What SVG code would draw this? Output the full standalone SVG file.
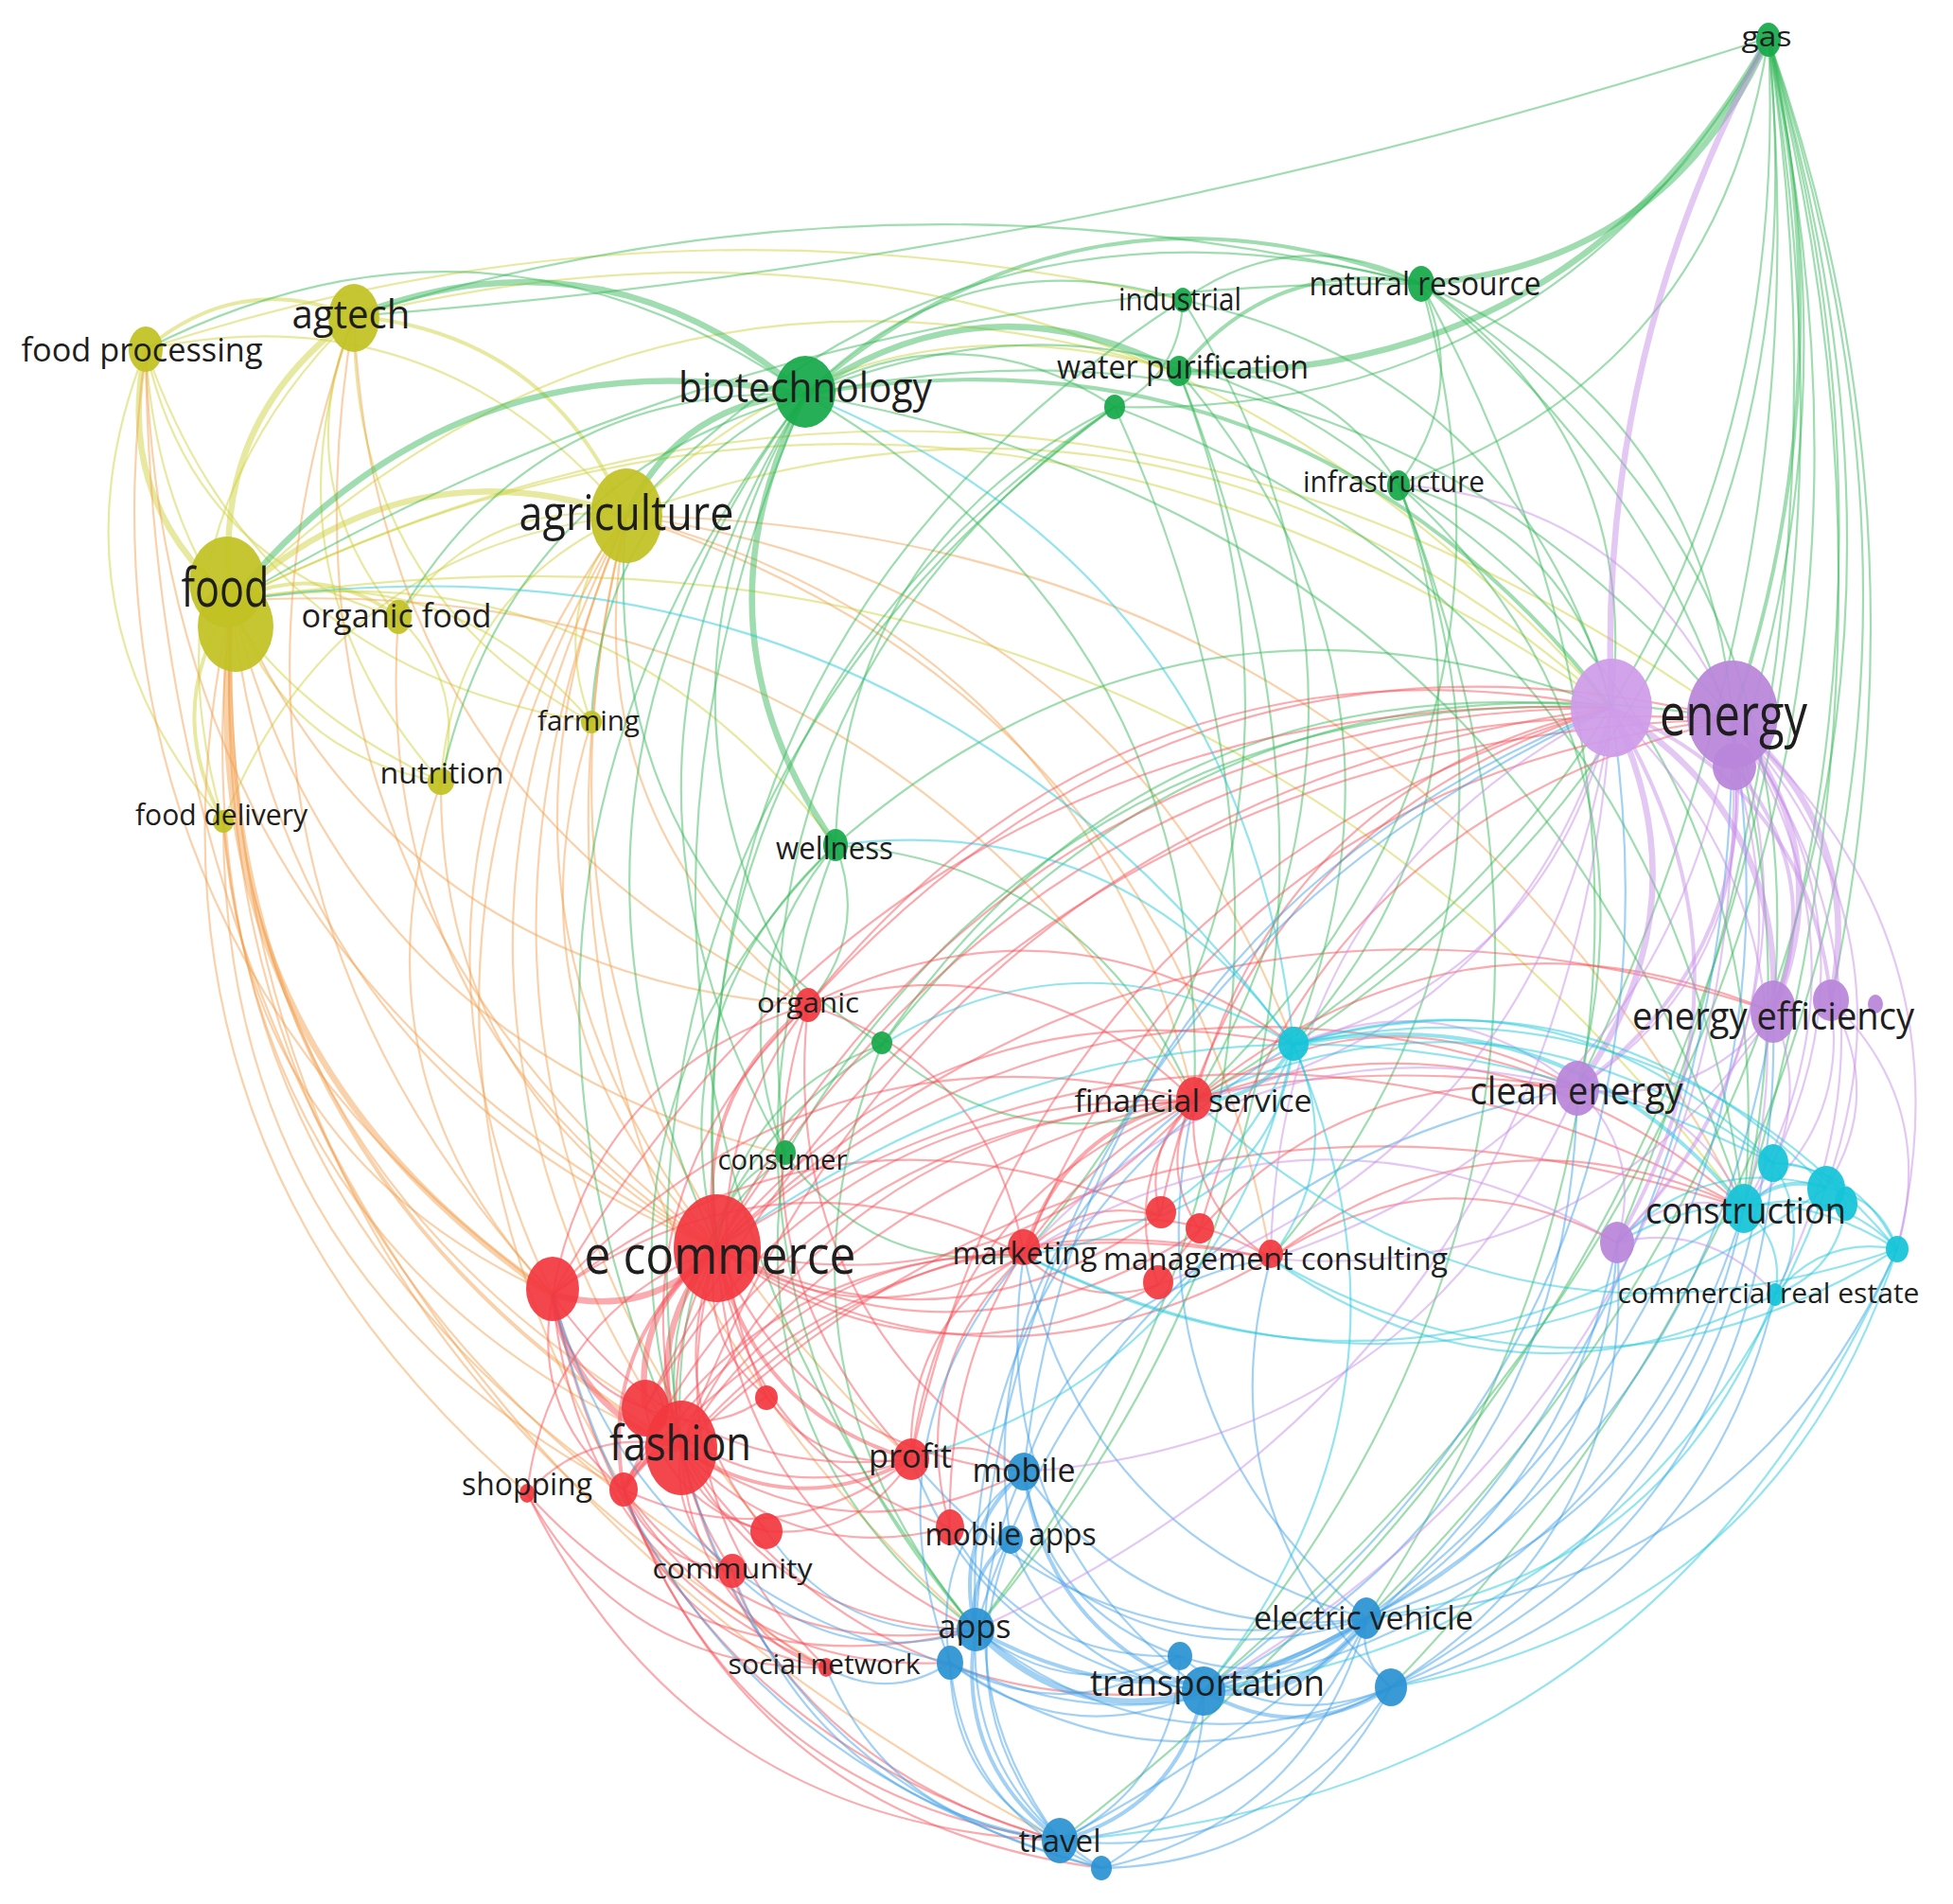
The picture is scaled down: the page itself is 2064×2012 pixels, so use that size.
<svg xmlns="http://www.w3.org/2000/svg" xmlns:xlink="http://www.w3.org/1999/xlink" width="2064" height="2012" viewBox="0 0 2064 2012">
<style>
#edges{fill:none;stroke-width:2.2;stroke-opacity:.48}
.t{stroke-width:6.5}
.m{stroke-width:4}
.y{stroke:#cfd23a}.o{stroke:#f2a050}.g{stroke:#36b85a}.r{stroke:#f45058}.b{stroke:#3c9fe6}.p{stroke:#c68be8}.c{stroke:#1fc6dc}
.ny{fill:#c2c224}.ng{fill:#17a94a}.nr{fill:#f2383f}.nb{fill:#2b92d3}.np{fill:#b985da}.nc{fill:#14c4d8}
.nodes ellipse{fill-opacity:.93}
text{font-family:"Open Sans","DejaVu Sans",sans-serif;fill:#1e1e1e;text-anchor:middle}
</style>
<defs>
<path id="u" d="M0 0Q.5 -.3 1 0" fill="none" vector-effect="non-scaling-stroke"/>
<path id="v" d="M0 0Q.5 -.14 1 0" fill="none" vector-effect="non-scaling-stroke"/>
<path id="w" d="M0 0Q.5 -.06 1 0" fill="none" vector-effect="non-scaling-stroke"/>
</defs>
<rect width="2064" height="2012" fill="#fff"/>
<g id="edges">
<g class="y">
<use href="#u" class="t" transform="matrix(-91 -266 266 -91 245 635)"/>
<use href="#u" class="t" transform="matrix(129 -301 301 129 245 635)"/>
<use href="#u" class="t" transform="matrix(417 -90 90 417 245 635)"/>
<use href="#u" class="m" transform="matrix(220 -35 35 220 154 369)"/>
<use href="#u" transform="matrix(508 176 -176 508 154 369)"/>
<use href="#u" class="m" transform="matrix(288 211 -211 288 374 334)"/>
<use href="#u" class="m" transform="matrix(176 17 -17 176 245 635)"/>
<use href="#u" transform="matrix(380 128 -128 380 245 635)"/>
<use href="#u" transform="matrix(-221 -191 191 -221 466 826)"/>
<use href="#u" class="m" transform="matrix(9 -233 233 9 236 868)"/>
<use href="#u" transform="matrix(-47 -318 318 -47 421 652)"/>
<use href="#u" transform="matrix(-92 -492 492 -92 466 826)"/>
<use href="#u" transform="matrix(-251 -429 429 -251 625 763)"/>
<use href="#u" transform="matrix(-82 -499 499 -82 236 868)"/>
<use href="#u" transform="matrix(-267 -283 283 -267 421 652)"/>
<use href="#u" transform="matrix(-312 -457 457 -312 466 826)"/>
<use href="#u" transform="matrix(241 -107 107 241 421 652)"/>
<use href="#u" transform="matrix(37 -218 218 37 625 763)"/>
<use href="#u" transform="matrix(196 -281 281 196 466 826)"/>
<use href="#u" transform="matrix(426 -323 323 426 236 868)"/>
<use href="#u" transform="matrix(638 258 -258 638 245 635)"/>
<use href="#u" transform="matrix(1458 113 -113 1458 245 635)"/>
<use href="#u" transform="matrix(1041 203 -203 1041 662 545)"/>
<use href="#u" transform="matrix(1586 125 -125 1586 245 635)"/>
<use href="#u" transform="matrix(584 -152 152 584 662 545)"/>
<use href="#u" transform="matrix(1598 642 -642 1598 245 635)"/>
<use href="#u" transform="matrix(1329 414 -414 1329 374 334)"/>
<use href="#v" transform="matrix(1096 -52 52 1096 154 369)"/>
<use href="#u" transform="matrix(1001 -242 242 1001 245 635)"/>
<use href="#u" transform="matrix(45 174 -174 45 421 652)"/>
<use href="#u" transform="matrix(-471 -394 394 -471 625 763)"/>
<use href="#u" transform="matrix(138 -534 534 138 236 868)"/>
</g>
<g class="o">
<use href="#u" transform="matrix(-513 -684 684 -513 758 1319)"/>
<use href="#u" class="t" transform="matrix(-339 -733 733 -339 584 1368)"/>
<use href="#u" class="m" transform="matrix(-475 -895 895 -475 720 1530)"/>
<use href="#u" transform="matrix(-414 -939 939 -414 659 1574)"/>
<use href="#u" transform="matrix(-609 -427 427 -609 854 1062)"/>
<use href="#u" transform="matrix(-585 -585 585 -585 830 1220)"/>
<use href="#u" transform="matrix(-96 -774 774 -96 758 1319)"/>
<use href="#u" transform="matrix(78 -823 823 78 584 1368)"/>
<use href="#u" transform="matrix(-58 -985 985 -58 720 1530)"/>
<use href="#u" transform="matrix(-384 -985 985 -384 758 1319)"/>
<use href="#u" transform="matrix(3 -1029 1029 3 659 1574)"/>
<use href="#u" transform="matrix(-192 -517 517 -192 854 1062)"/>
<use href="#u" transform="matrix(-292 -493 493 -292 758 1319)"/>
<use href="#u" transform="matrix(-348 -500 500 -348 584 1368)"/>
<use href="#u" transform="matrix(-484 -662 662 -484 720 1530)"/>
<use href="#u" transform="matrix(-133 -556 556 -133 758 1319)"/>
<use href="#u" transform="matrix(-337 -667 667 -337 758 1319)"/>
<use href="#u" transform="matrix(-210 -1034 1034 -210 584 1368)"/>
<use href="#u" transform="matrix(-430 -999 999 -430 584 1368)"/>
<use href="#u" transform="matrix(-369 -1177 1177 -369 1031 1722)"/>
<use href="#u" transform="matrix(-437 -853 853 -437 682 1488)"/>
<use href="#u" transform="matrix(-529 -1025 1025 -529 774 1660)"/>
<use href="#u" transform="matrix(-148 -1073 1073 -148 810 1618)"/>
<use href="#u" transform="matrix(-301 -997 997 -301 963 1542)"/>
<use href="#u" transform="matrix(-966 -1576 1576 -966 1120 1945)"/>
<use href="#u" transform="matrix(-423 -706 706 -423 659 1574)"/>
<use href="#u" transform="matrix(-628 -1127 1127 -628 873 1762)"/>
<use href="#u" transform="matrix(-480 -728 728 -480 854 1062)"/>
<use href="#u" transform="matrix(-118 -542 542 -118 584 1368)"/>
<use href="#u" transform="matrix(-604 -950 950 -604 758 1319)"/>
<use href="#u" transform="matrix(681 785 -785 681 662 545)"/>
<use href="#u" transform="matrix(705 559 -559 705 662 545)"/>
<use href="#u" transform="matrix(1017 528 -528 1017 245 635)"/>
<use href="#u" transform="matrix(600 618 -618 600 662 545)"/>
<use href="#u" transform="matrix(1181 732 -732 1181 662 545)"/>
<use href="#u" transform="matrix(-312 -943 943 -312 557 1578)"/>
</g>
<g class="g">
<use href="#u" class="t" transform="matrix(477 83 -83 477 374 334)"/>
<use href="#u" class="t" transform="matrix(606 -218 218 606 245 635)"/>
<use href="#u" class="t" transform="matrix(189 -128 128 189 662 545)"/>
<use href="#u" transform="matrix(697 48 -48 697 154 369)"/>
<use href="#v" transform="matrix(1128 -34 34 1128 374 334)"/>
<use href="#u" class="t" transform="matrix(-367 260 -260 -367 1869 40)"/>
<use href="#u" class="t" transform="matrix(-623 353 -353 -623 1869 40)"/>
<use href="#w" transform="matrix(-1495 294 -294 -1495 1869 40)"/>
<use href="#u" transform="matrix(-691 390 -390 -691 1869 40)"/>
<use href="#v" class="m" transform="matrix(-38 720 -720 -38 1869 40)"/>
<use href="#v" transform="matrix(-36 770 -770 -36 1869 40)"/>
<use href="#v" transform="matrix(5 1029 -1029 5 1869 40)"/>
<use href="#v" transform="matrix(-26 1237 -1237 -26 1869 40)"/>
<use href="#v" transform="matrix(66 1017 -1017 66 1869 40)"/>
<use href="#v" transform="matrix(-202 1110 -1110 -202 1869 40)"/>
<use href="#u" transform="matrix(-391 472 -472 -391 1869 40)"/>
<use href="#u" transform="matrix(-502 1064 -1064 -502 1869 40)"/>
<use href="#u" transform="matrix(-607 1123 -1123 -607 1869 40)"/>
<use href="#u" transform="matrix(-425 1670 -1670 -425 1869 40)"/>
<use href="#u" transform="matrix(-399 1743 -1743 -399 1869 40)"/>
<use href="#u" transform="matrix(-749 1905 -1905 -749 1869 40)"/>
<use href="#u" transform="matrix(-597 1747 -1747 -597 1869 40)"/>
<use href="#v" transform="matrix(-160 1273 -1273 -160 1869 40)"/>
<use href="#u" class="m" transform="matrix(651 -117 117 651 851 417)"/>
<use href="#u" transform="matrix(399 -100 100 399 851 417)"/>
<use href="#u" class="t" transform="matrix(395 -24 24 395 851 417)"/>
<use href="#u" transform="matrix(327 13 -13 327 851 417)"/>
<use href="#u" transform="matrix(627 95 -95 627 851 417)"/>
<use href="#u" class="m" transform="matrix(852 331 -331 852 851 417)"/>
<use href="#u" transform="matrix(980 343 -343 980 851 417)"/>
<use href="#u" class="t" transform="matrix(-32 -476 476 -32 883 893)"/>
<use href="#u" transform="matrix(-3 -645 645 -3 854 1062)"/>
<use href="#u" transform="matrix(21 -803 803 21 830 1220)"/>
<use href="#u" transform="matrix(93 -902 902 93 758 1319)"/>
<use href="#u" transform="matrix(131 -1113 1113 131 720 1530)"/>
<use href="#u" transform="matrix(430 -235 235 430 421 652)"/>
<use href="#u" transform="matrix(226 -346 346 226 625 763)"/>
<use href="#u" transform="matrix(385 -409 409 385 466 826)"/>
<use href="#u" transform="matrix(-180 -1305 1305 -180 1031 1722)"/>
<use href="#u" transform="matrix(992 860 -860 992 851 417)"/>
<use href="#u" transform="matrix(252 -17 17 252 1250 317)"/>
<use href="#u" transform="matrix(-72 113 -113 -72 1250 317)"/>
<use href="#u" class="m" transform="matrix(256 -93 93 256 1246 393)"/>
<use href="#u" transform="matrix(232 119 -119 232 1246 393)"/>
<use href="#u" transform="matrix(-24 212 -212 -24 1502 300)"/>
<use href="#u" transform="matrix(201 448 -448 201 1502 300)"/>
<use href="#u" transform="matrix(329 460 -460 329 1502 300)"/>
<use href="#u" transform="matrix(341 977 -977 341 1502 300)"/>
<use href="#u" transform="matrix(372 769 -769 372 1502 300)"/>
<use href="#u" transform="matrix(-240 863 -863 -240 1502 300)"/>
<use href="#u" transform="matrix(225 236 -236 225 1478 512)"/>
<use href="#u" transform="matrix(365 765 -765 365 1478 512)"/>
<use href="#u" transform="matrix(189 638 -638 189 1478 512)"/>
<use href="#u" transform="matrix(-111 592 -592 -111 1478 512)"/>
<use href="#u" transform="matrix(-135 818 -818 -135 1478 512)"/>
<use href="#u" transform="matrix(-206 1275 -1275 -206 1478 512)"/>
<use href="#u" transform="matrix(295 -463 463 295 883 893)"/>
<use href="#u" transform="matrix(420 -889 889 420 758 1319)"/>
<use href="#u" transform="matrix(348 -790 790 348 830 1220)"/>
<use href="#u" transform="matrix(-215 1329 -1329 -215 1246 393)"/>
<use href="#u" transform="matrix(-164 933 -933 -164 1246 393)"/>
<use href="#u" transform="matrix(453 431 -431 453 1250 317)"/>
<use href="#u" transform="matrix(125 -426 426 125 758 1319)"/>
<use href="#u" transform="matrix(163 -637 637 163 720 1530)"/>
<use href="#u" transform="matrix(53 -327 327 53 830 1220)"/>
<use href="#u" transform="matrix(379 270 -270 379 883 893)"/>
<use href="#u" transform="matrix(-148 -829 829 -148 1031 1722)"/>
<use href="#u" transform="matrix(-330 -59 59 -330 1262 1163)"/>
<use href="#u" transform="matrix(174 -215 215 174 758 1319)"/>
<use href="#u" transform="matrix(771 -356 356 771 932 1104)"/>
<use href="#u" transform="matrix(-270 -559 559 -270 932 1104)"/>
<use href="#u" transform="matrix(72 -99 99 72 758 1319)"/>
<use href="#u" transform="matrix(-201 -502 502 -201 1031 1722)"/>
<use href="#u" transform="matrix(110 -310 310 110 720 1530)"/>
<use href="#u" transform="matrix(-252 -106 106 -252 1082 1326)"/>
<use href="#u" transform="matrix(411 746 -746 411 851 417)"/>
<use href="#u" transform="matrix(-58 1410 -1410 -58 1502 300)"/>
<use href="#u" transform="matrix(492 -1002 1002 492 758 1319)"/>
<use href="#u" transform="matrix(840 -245 245 840 662 545)"/>
<use href="#u" transform="matrix(820 -145 145 820 883 893)"/>
<use href="#u" transform="matrix(899 -344 344 899 932 1104)"/>
<use href="#u" transform="matrix(873 -472 472 873 830 1220)"/>
<use href="#u" transform="matrix(-147 1292 -1292 -147 1178 430)"/>
<use href="#u" transform="matrix(458 -1100 1100 458 720 1530)"/>
<use href="#u" transform="matrix(-29 169 -169 -29 883 893)"/>
<use href="#u" transform="matrix(212 -426 426 212 720 1530)"/>
<use href="#u" transform="matrix(-99 -618 618 -99 1031 1722)"/>
<use href="#u" transform="matrix(12 846 -846 12 1250 317)"/>
<use href="#u" transform="matrix(665 847 -847 665 1178 430)"/>
<use href="#u" transform="matrix(121 711 -711 121 1246 393)"/>
<use href="#v" transform="matrix(1257 -335 335 1257 245 635)"/>
</g>
<g class="r">
<use href="#u" class="t" transform="matrix(-174 49 -49 -174 758 1319)"/>
<use href="#u" class="t" transform="matrix(38 -211 211 38 720 1530)"/>
<use href="#u" class="t" transform="matrix(76 -169 169 76 682 1488)"/>
<use href="#u" class="m" transform="matrix(99 -255 255 99 659 1574)"/>
<use href="#u" transform="matrix(-52 -157 157 -52 810 1476)"/>
<use href="#u" transform="matrix(-52 -299 299 -52 810 1618)"/>
<use href="#u" transform="matrix(-16 -341 341 -16 774 1660)"/>
<use href="#u" class="m" transform="matrix(-205 -223 223 -205 963 1542)"/>
<use href="#u" transform="matrix(-246 -295 295 -246 1004 1614)"/>
<use href="#u" class="m" transform="matrix(96 -257 257 96 758 1319)"/>
<use href="#u" transform="matrix(-324 -7 7 -324 1082 1326)"/>
<use href="#u" transform="matrix(-504 156 -156 -504 1262 1163)"/>
<use href="#u" transform="matrix(-468 34 -34 -468 1226 1285)"/>
<use href="#u" transform="matrix(-466 -39 39 -466 1224 1358)"/>
<use href="#u" transform="matrix(-585 -11 11 -585 1343 1330)"/>
<use href="#u" transform="matrix(-324 -236 236 -324 1082 1555)"/>
<use href="#u" transform="matrix(-273 -403 403 -273 1031 1722)"/>
<use href="#u" transform="matrix(-115 -443 443 -115 873 1762)"/>
<use href="#u" transform="matrix(945 -571 571 945 758 1319)"/>
<use href="#u" transform="matrix(1073 -559 559 1073 758 1319)"/>
<use href="#u" transform="matrix(983 -782 782 983 720 1530)"/>
<use href="#u" transform="matrix(909 -169 169 909 758 1319)"/>
<use href="#u" transform="matrix(1085 -42 42 1085 758 1319)"/>
<use href="#u" transform="matrix(1116 -250 250 1116 758 1319)"/>
<use href="#u" transform="matrix(849 -314 314 849 854 1062)"/>
<use href="#u" transform="matrix(408 101 -101 408 854 1062)"/>
<use href="#u" transform="matrix(134 -468 468 134 720 1530)"/>
<use href="#u" transform="matrix(270 -306 306 270 584 1368)"/>
<use href="#u" class="t" transform="matrix(-136 -162 162 -136 720 1530)"/>
<use href="#u" transform="matrix(-98 -120 120 -98 682 1488)"/>
<use href="#u" transform="matrix(-75 -206 206 -75 659 1574)"/>
<use href="#u" class="t" transform="matrix(61 -44 44 61 659 1574)"/>
<use href="#u" class="m" transform="matrix(-243 -12 12 -243 963 1542)"/>
<use href="#u" transform="matrix(-90 -88 88 -90 810 1618)"/>
<use href="#u" transform="matrix(-54 -130 130 -54 774 1660)"/>
<use href="#u" transform="matrix(-284 -84 84 -284 1004 1614)"/>
<use href="#u" transform="matrix(362 -204 204 362 720 1530)"/>
<use href="#u" transform="matrix(542 -367 367 542 720 1530)"/>
<use href="#u" transform="matrix(623 -200 200 623 720 1530)"/>
<use href="#u" transform="matrix(-362 -25 25 -362 1082 1555)"/>
<use href="#u" transform="matrix(-311 -192 192 -311 1031 1722)"/>
<use href="#u" transform="matrix(-400 -415 415 -400 1120 1945)"/>
<use href="#u" transform="matrix(-552 -257 257 -552 1272 1787)"/>
<use href="#u" transform="matrix(-461 -371 371 -461 1120 1945)"/>
<use href="#u" transform="matrix(-505 -400 400 -505 1164 1974)"/>
<use href="#u" transform="matrix(-536 -577 577 -536 1120 1945)"/>
<use href="#u" transform="matrix(-345 -183 183 -345 1004 1757)"/>
<use href="#u" transform="matrix(-214 -188 188 -214 873 1762)"/>
<use href="#u" transform="matrix(-153 -232 232 -153 873 1762)"/>
<use href="#u" transform="matrix(-289 -394 394 -289 873 1762)"/>
<use href="#u" transform="matrix(-372 -148 148 -372 1031 1722)"/>
<use href="#u" transform="matrix(-115 -86 86 -115 774 1660)"/>
<use href="#u" transform="matrix(-128 -130 130 -128 810 1618)"/>
<use href="#u" transform="matrix(-281 -54 54 -281 963 1542)"/>
<use href="#u" transform="matrix(-128 12 -12 -128 810 1476)"/>
<use href="#u" transform="matrix(119 -216 216 119 963 1542)"/>
<use href="#u" transform="matrix(78 -288 288 78 1004 1614)"/>
<use href="#u" class="m" transform="matrix(180 -163 163 180 1082 1326)"/>
<use href="#u" transform="matrix(36 -122 122 36 1226 1285)"/>
<use href="#u" transform="matrix(-6 -137 137 -6 1268 1300)"/>
<use href="#u" transform="matrix(38 -195 195 38 1224 1358)"/>
<use href="#u" transform="matrix(-81 -167 167 -81 1343 1330)"/>
<use href="#u" transform="matrix(144 -41 41 144 1082 1326)"/>
<use href="#u" transform="matrix(261 4 -4 261 1082 1326)"/>
<use href="#u" transform="matrix(-142 -32 32 -142 1224 1358)"/>
<use href="#u" transform="matrix(405 -13 13 405 1262 1163)"/>
<use href="#u" transform="matrix(441 -415 415 441 1262 1163)"/>
<use href="#u" transform="matrix(612 -94 94 612 1262 1163)"/>
<use href="#u" transform="matrix(581 114 -114 581 1262 1163)"/>
<use href="#u" transform="matrix(366 -17 17 366 1343 1330)"/>
<use href="#u" transform="matrix(500 -53 53 500 1343 1330)"/>
<use href="#u" transform="matrix(477 -537 537 477 1226 1285)"/>
<use href="#u" transform="matrix(563 -540 540 563 1268 1300)"/>
<use href="#u" transform="matrix(443 -208 208 443 1224 1358)"/>
<use href="#u" transform="matrix(299 -379 379 299 963 1542)"/>
<use href="#u" transform="matrix(258 -451 451 258 1004 1614)"/>
<use href="#u" transform="matrix(119 13 -13 119 963 1542)"/>
<use href="#u" transform="matrix(-99 -102 102 -99 873 1762)"/>
<use href="#u" transform="matrix(-153 76 -76 -153 963 1542)"/>
<use href="#u" transform="matrix(-304 32 -32 -304 963 1542)"/>
<use href="#u" transform="matrix(-379 -174 174 -379 963 1542)"/>
<use href="#u" transform="matrix(498 -42 42 498 584 1368)"/>
<use href="#u" transform="matrix(678 -205 205 678 584 1368)"/>
<use href="#u" transform="matrix(423 -248 248 423 659 1574)"/>
<use href="#u" transform="matrix(684 -244 244 684 659 1574)"/>
<use href="#u" transform="matrix(580 -325 325 580 682 1488)"/>
<use href="#u" transform="matrix(228 264 -264 228 854 1062)"/>
<use href="#u" transform="matrix(513 42 -42 513 854 1062)"/>
<use href="#u" transform="matrix(-109 -480 480 -109 963 1542)"/>
<use href="#u" transform="matrix(-228 -493 493 -228 1082 1555)"/>
<use href="#u" transform="matrix(-153 -66 66 -153 963 1542)"/>
<use href="#u" transform="matrix(749 -566 566 749 1082 1326)"/>
<use href="#u" transform="matrix(740 -794 794 740 963 1542)"/>
<use href="#u" transform="matrix(1119 -620 620 1119 584 1368)"/>
<use href="#u" transform="matrix(977 -302 302 977 854 1062)"/>
<use href="#u" transform="matrix(609 -215 215 609 758 1319)"/>
<use href="#u" transform="matrix(603 -411 411 603 659 1574)"/>
<use href="#u" transform="matrix(642 -83 83 642 584 1368)"/>
<use href="#u" transform="matrix(1149 -728 728 1149 682 1488)"/>
<use href="#u" transform="matrix(1008 -424 424 1008 659 1574)"/>
<use href="#u" transform="matrix(1123 -253 253 1123 720 1530)"/>
<use href="#u" transform="matrix(-510 19 -19 -510 1268 1300)"/>
<use href="#u" transform="matrix(44 -414 414 44 810 1476)"/>
<use href="#u" transform="matrix(-563 -367 367 -563 1120 1945)"/>
<use href="#u" transform="matrix(201 -259 259 201 557 1578)"/>
<use href="#u" transform="matrix(163 -48 48 163 557 1578)"/>
<use href="#u" transform="matrix(-474 -144 144 -474 1031 1722)"/>
<use href="#u" transform="matrix(-316 -184 184 -316 873 1762)"/>
</g>
<g class="b">
<use href="#u" class="m" transform="matrix(51 -167 167 51 1031 1722)"/>
<use href="#u" class="m" transform="matrix(37 -95 95 37 1031 1722)"/>
<use href="#u" transform="matrix(78 -202 202 78 1004 1757)"/>
<use href="#u" class="t" transform="matrix(-241 -65 65 -241 1272 1787)"/>
<use href="#u" class="m" transform="matrix(-190 -232 232 -190 1272 1787)"/>
<use href="#u" transform="matrix(-204 -160 160 -204 1272 1787)"/>
<use href="#u" transform="matrix(-268 -30 30 -268 1272 1787)"/>
<use href="#u" transform="matrix(-216 -28 28 -216 1247 1750)"/>
<use href="#u" transform="matrix(-165 -195 195 -165 1247 1750)"/>
<use href="#u" class="t" transform="matrix(-172 77 -77 -172 1444 1710)"/>
<use href="#u" transform="matrix(-197 40 -40 -197 1444 1710)"/>
<use href="#u" class="m" transform="matrix(-413 12 -12 -413 1444 1710)"/>
<use href="#u" transform="matrix(-362 -155 155 -362 1444 1710)"/>
<use href="#u" transform="matrix(-376 -83 83 -376 1444 1710)"/>
<use href="#u" class="m" transform="matrix(-198 4 -4 -198 1470 1783)"/>
<use href="#u" transform="matrix(-26 -73 73 -26 1470 1783)"/>
<use href="#u" transform="matrix(-439 -61 61 -439 1470 1783)"/>
<use href="#u" transform="matrix(-223 -33 33 -223 1470 1783)"/>
<use href="#u" class="m" transform="matrix(-89 -223 223 -89 1120 1945)"/>
<use href="#u" transform="matrix(-116 -188 188 -116 1120 1945)"/>
<use href="#u" class="m" transform="matrix(-152 158 -158 -152 1272 1787)"/>
<use href="#u" transform="matrix(-350 162 -162 -350 1470 1783)"/>
<use href="#u" transform="matrix(-324 235 -235 -324 1444 1710)"/>
<use href="#u" transform="matrix(-133 -252 252 -133 1164 1974)"/>
<use href="#u" transform="matrix(-127 195 -195 -127 1247 1750)"/>
<use href="#u" transform="matrix(-38 -390 390 -38 1120 1945)"/>
<use href="#u" transform="matrix(-52 -318 318 -52 1120 1945)"/>
<use href="#u" transform="matrix(-160 -217 217 -160 1164 1974)"/>
<use href="#u" transform="matrix(-306 191 -191 -306 1470 1783)"/>
<use href="#u" transform="matrix(-395 637 -637 -395 1667 1150)"/>
<use href="#u" transform="matrix(-437 474 -474 -437 1709 1313)"/>
<use href="#u" transform="matrix(-265 397 -397 -265 1709 1313)"/>
<use href="#u" transform="matrix(-399 433 -433 -399 1843 1277)"/>
<use href="#u" transform="matrix(-404 554 -554 -404 1874 1229)"/>
<use href="#u" transform="matrix(-406 415 -415 -406 1876 1368)"/>
<use href="#u" transform="matrix(-561 390 -390 -561 2005 1320)"/>
<use href="#u" transform="matrix(-404 714 -714 -404 1874 1069)"/>
<use href="#u" transform="matrix(-711 1185 -1185 -711 1831 760)"/>
<use href="#u" transform="matrix(-431 1039 -1039 -431 1703 748)"/>
<use href="#u" transform="matrix(-387 950 -950 -387 1831 760)"/>
<use href="#u" transform="matrix(621 -807 807 621 1082 1555)"/>
<use href="#u" transform="matrix(636 -572 572 636 1031 1722)"/>
<use href="#u" transform="matrix(336 -618 618 336 1031 1722)"/>
<use href="#u" transform="matrix(78 -431 431 78 1004 1757)"/>
<use href="#u" transform="matrix(194 -464 464 194 1068 1627)"/>
<use href="#u" transform="matrix(261 -225 225 261 1082 1555)"/>
<use href="#u" transform="matrix(-247 -183 183 -247 1120 1945)"/>
<use href="#u" transform="matrix(-257 -62 62 -257 1031 1722)"/>
<use href="#u" transform="matrix(-131 5 -5 -131 1004 1757)"/>
<use href="#u" transform="matrix(-420 -389 389 -420 1004 1757)"/>
<use href="#u" transform="matrix(-221 -104 104 -221 1031 1722)"/>
<use href="#u" transform="matrix(-309 -245 245 -309 1272 1787)"/>
<use href="#u" transform="matrix(-243 -136 136 -243 1247 1750)"/>
<use href="#u" transform="matrix(-481 -168 168 -481 1444 1710)"/>
<use href="#u" transform="matrix(-182 -547 547 -182 1444 1710)"/>
<use href="#u" transform="matrix(-127 -453 453 -127 1470 1783)"/>
<use href="#u" transform="matrix(-440 47 -47 -440 1444 1710)"/>
<use href="#u" transform="matrix(-466 -26 26 -466 1470 1783)"/>
<use href="#u" transform="matrix(-108 187 -187 -108 1272 1787)"/>
<use href="#u" transform="matrix(-280 264 -264 -280 1444 1710)"/>
<use href="#u" transform="matrix(-243 7 -7 -243 1247 1750)"/>
<use href="#u" transform="matrix(-346 -285 285 -346 1120 1945)"/>
<use href="#u" transform="matrix(-444 -444 444 -444 1164 1974)"/>
<use href="#u" transform="matrix(-580 -606 606 -580 1164 1974)"/>
<use href="#u" transform="matrix(-190 -461 461 -190 1272 1787)"/>
<use href="#u" transform="matrix(-362 -384 384 -362 1444 1710)"/>
<use href="#u" transform="matrix(-239 470 -470 -239 1709 1313)"/>
<use href="#u" transform="matrix(672 -974 974 672 1031 1722)"/>
<use href="#u" transform="matrix(-571 510 -510 -571 1843 1277)"/>
<use href="#u" transform="matrix(-602 718 -718 -602 1874 1069)"/>
</g>
<g class="p">
<use href="#u" class="t" transform="matrix(-36 402 -402 -36 1703 748)"/>
<use href="#u" class="t" transform="matrix(43 309 -309 43 1831 760)"/>
<use href="#u" class="t" transform="matrix(104 297 -297 104 1831 760)"/>
<use href="#u" class="t" transform="matrix(171 321 -321 171 1703 748)"/>
<use href="#u" class="m" transform="matrix(-164 390 -390 -164 1831 760)"/>
<use href="#u" class="m" transform="matrix(41 259 -259 41 1833 810)"/>
<use href="#u" transform="matrix(-166 340 -340 -166 1833 810)"/>
<use href="#u" class="m" transform="matrix(6 565 -565 6 1703 748)"/>
<use href="#u" transform="matrix(-122 553 -553 -122 1831 760)"/>
<use href="#u" transform="matrix(12 517 -517 12 1831 760)"/>
<use href="#u" transform="matrix(43 469 -469 43 1831 760)"/>
<use href="#u" transform="matrix(99 495 -495 99 1831 760)"/>
<use href="#u" transform="matrix(174 560 -560 174 1831 760)"/>
<use href="#u" transform="matrix(45 608 -608 45 1831 760)"/>
<use href="#u" transform="matrix(140 529 -529 140 1703 748)"/>
<use href="#u" transform="matrix(-336 356 -356 -336 1703 748)"/>
<use href="#u" transform="matrix(-207 81 -81 -207 1874 1069)"/>
<use href="#u" transform="matrix(-31 208 -208 -31 1874 1069)"/>
<use href="#u" transform="matrix(-5 198 -198 -5 1935 1057)"/>
<use href="#u" transform="matrix(70 263 -263 70 1935 1057)"/>
<use href="#u" transform="matrix(176 127 -127 176 1667 1150)"/>
<use href="#u" transform="matrix(42 163 -163 42 1667 1150)"/>
<use href="#u" transform="matrix(300 46 -46 300 1367 1104)"/>
<use href="#u" transform="matrix(134 -36 36 134 1709 1313)"/>
<use href="#u" transform="matrix(167 55 -55 167 1709 1313)"/>
<use href="#u" transform="matrix(360 -582 582 360 1343 1330)"/>
<use href="#u" class="m" transform="matrix(232 309 -309 232 1703 748)"/>
<use href="#u" transform="matrix(-124 503 -503 -124 1833 810)"/>
<use href="#u" transform="matrix(-441 415 -415 -441 1703 748)"/>
<use href="#u" transform="matrix(-479 610 -610 -479 1703 748)"/>
<use href="#u" transform="matrix(-488 570 -570 -488 1831 760)"/>
<use href="#u" transform="matrix(-672 974 -974 -672 1703 748)"/>
<use href="#u" transform="matrix(-559 1027 -1027 -559 1831 760)"/>
<use href="#u" transform="matrix(585 -176 176 585 1082 1326)"/>
<use href="#u" transform="matrix(627 -13 13 627 1082 1326)"/>
<use href="#u" transform="matrix(-531 261 -261 -531 1874 1069)"/>
<use href="#u" transform="matrix(-585 405 -405 -585 1667 1150)"/>
<use href="#u" transform="matrix(353 248 -248 353 1478 512)"/>
<use href="#u" transform="matrix(-92 220 -220 -92 1935 1057)"/>
<use href="#v" class="t" transform="matrix(166 -708 708 166 1703 748)"/>
</g>
<g class="c">
<use href="#u" class="m" transform="matrix(476 173 -173 476 1367 1104)"/>
<use href="#u" transform="matrix(507 125 -125 507 1367 1104)"/>
<use href="#u" transform="matrix(563 151 -151 563 1367 1104)"/>
<use href="#u" class="m" transform="matrix(-105 59 -59 -105 1367 1104)"/>
<use href="#u" transform="matrix(-24 226 -226 -24 1367 1104)"/>
<use href="#u" transform="matrix(-141 181 -181 -141 1367 1104)"/>
<use href="#u" transform="matrix(435 0 0 435 932 1104)"/>
<use href="#u" class="m" transform="matrix(87 -22 22 87 1843 1277)"/>
<use href="#u" transform="matrix(162 43 -43 162 1843 1277)"/>
<use href="#u" transform="matrix(33 91 -91 33 1843 1277)"/>
<use href="#u" transform="matrix(131 91 -91 131 1874 1229)"/>
<use href="#u" transform="matrix(75 65 -65 75 1930 1255)"/>
<use href="#u" transform="matrix(129 -48 48 129 1876 1368)"/>
<use href="#u" transform="matrix(2 139 -139 2 1874 1229)"/>
<use href="#u" transform="matrix(-75 96 -96 -75 1951 1272)"/>
<use href="#u" transform="matrix(77 43 -43 77 1874 1229)"/>
<use href="#u" transform="matrix(221 -58 58 221 1709 1313)"/>
<use href="#u" transform="matrix(296 7 -7 296 1709 1313)"/>
<use href="#u" transform="matrix(-533 -38 38 -533 1876 1368)"/>
<use href="#u" transform="matrix(-662 10 -10 -662 2005 1320)"/>
<use href="#u" transform="matrix(-761 49 -49 -761 1843 1277)"/>
<use href="#u" transform="matrix(612 66 -66 612 1262 1163)"/>
<use href="#u" transform="matrix(638 216 -216 638 1367 1104)"/>
<use href="#u" transform="matrix(-535 463 -463 -535 2005 1320)"/>
<use href="#u" transform="matrix(-885 625 -625 -885 2005 1320)"/>
<use href="#u" transform="matrix(-658 532 -532 -658 1930 1255)"/>
<use href="#u" transform="matrix(-95 683 -683 -95 1367 1104)"/>
<use href="#u" transform="matrix(484 211 -211 484 883 893)"/>
<use href="#u" transform="matrix(-285 222 -222 -285 1367 1104)"/>
<use href="#u" transform="matrix(1116 -90 90 1116 758 1319)"/>
<use href="#u" transform="matrix(-404 438 -438 -404 1367 1104)"/>
<use href="#u" transform="matrix(-848 71 -71 -848 1930 1255)"/>
<use href="#u" transform="matrix(-432 342 -342 -432 1876 1368)"/>
<use href="#u" transform="matrix(-743 -157 157 -743 2005 1320)"/>
<use href="#u" transform="matrix(516 687 -687 516 851 417)"/>
<use href="#u" transform="matrix(1122 469 -469 1122 245 635)"/>
</g>
</g>
<g class="nodes">
<g id="node-g6"><ellipse class="ng" cx="1178" cy="430" rx="11" ry="13"/></g>
<g id="node-g9"><ellipse class="ng" cx="932" cy="1102" rx="11" ry="12"/></g>
<g id="node-c1"><ellipse class="nc" cx="1367" cy="1103" rx="16" ry="18"/></g>
<g id="node-c2"><ellipse class="nc" cx="1874" cy="1229" rx="16" ry="20"/></g>
<g id="node-c4"><ellipse class="nc" cx="1930" cy="1256" rx="20" ry="24"/></g>
<g id="node-c5"><ellipse class="nc" cx="1951" cy="1272" rx="12" ry="18"/></g>
<g id="node-c6"><ellipse class="nc" cx="2005" cy="1320" rx="12" ry="14"/></g>
<g id="node-p2"><ellipse class="np" cx="1703" cy="748" rx="43" ry="52" style="fill:#cf9ce9"/></g>
<g id="node-p3"><ellipse class="np" cx="1833" cy="810" rx="23" ry="25"/></g>
<g id="node-p5"><ellipse class="np" cx="1935" cy="1057" rx="19" ry="22"/></g>
<g id="node-p5b"><ellipse class="np" cx="1982" cy="1061" rx="8" ry="10"/></g>
<g id="node-p7"><ellipse class="np" cx="1709" cy="1313" rx="18" ry="22"/></g>
<g id="node-r2"><ellipse class="nr" cx="584" cy="1362" rx="28" ry="34"/></g>
<g id="node-r6"><ellipse class="nr" cx="1227" cy="1281" rx="16" ry="17"/></g>
<g id="node-r7"><ellipse class="nr" cx="1268" cy="1298" rx="15" ry="16"/></g>
<g id="node-r8"><ellipse class="nr" cx="1224" cy="1355" rx="16" ry="18"/></g>
<g id="node-r11"><ellipse class="nr" cx="682" cy="1488" rx="25" ry="30"/></g>
<g id="node-r12"><ellipse class="nr" cx="810" cy="1477" rx="12" ry="13"/></g>
<g id="node-r13"><ellipse class="nr" cx="659" cy="1574" rx="15" ry="18"/></g>
<g id="node-r14"><ellipse class="nr" cx="810" cy="1618" rx="17" ry="19"/></g>
<g id="node-r17"><ellipse class="nr" cx="1004" cy="1614" rx="15" ry="19"/></g>
<g id="node-b4"><ellipse class="nb" cx="1004" cy="1757" rx="14" ry="18"/></g>
<g id="node-b6"><ellipse class="nb" cx="1247" cy="1750" rx="13" ry="15"/></g>
<g id="node-b8"><ellipse class="nb" cx="1470" cy="1783" rx="17" ry="20"/></g>
<g id="node-b10"><ellipse class="nb" cx="1164" cy="1974" rx="11" ry="13"/></g>

<g id="node-gas"><ellipse class="ng" cx="1869" cy="42" rx="13" ry="18"/><text x="1867" y="49" font-size="30" textLength="53" lengthAdjust="spacingAndGlyphs">gas</text></g>
<g id="node-natural-resource"><ellipse class="ng" cx="1502" cy="300" rx="14" ry="19"/><text x="1506" y="312" font-size="34" textLength="245" lengthAdjust="spacingAndGlyphs">natural resource</text></g>
<g id="node-industrial"><ellipse class="ng" cx="1250" cy="317" rx="10" ry="13"/><text x="1247" y="328" font-size="32" textLength="130" lengthAdjust="spacingAndGlyphs">industrial</text></g>
<g id="node-water-purification"><ellipse class="ng" cx="1246" cy="392" rx="13" ry="16"/><text x="1250" y="400" font-size="34" textLength="266" lengthAdjust="spacingAndGlyphs">water purification</text></g>
<g id="node-infrastructure"><ellipse class="ng" cx="1478" cy="513" rx="12" ry="16"/><text x="1473" y="520" font-size="31" textLength="192" lengthAdjust="spacingAndGlyphs">infrastructure</text></g>
<g id="node-biotechnology"><ellipse class="ng" cx="851" cy="414" rx="32" ry="38"/><text x="851" y="425" font-size="44" textLength="268" lengthAdjust="spacingAndGlyphs">biotechnology</text></g>
<g id="node-agtech"><ellipse class="ny" cx="374" cy="336" rx="27" ry="36"/><text x="371" y="347" font-size="42" textLength="125" lengthAdjust="spacingAndGlyphs">agtech</text></g>
<g id="node-food-processing"><ellipse class="ny" cx="154" cy="369" rx="18" ry="24"/><text x="150" y="382" font-size="34" textLength="255" lengthAdjust="spacingAndGlyphs">food processing</text></g>
<g id="node-agriculture"><ellipse class="ny" cx="662" cy="545" rx="38" ry="50"/><text x="662" y="560" font-size="52" textLength="227" lengthAdjust="spacingAndGlyphs">agriculture</text></g>
<g id="node-food"><ellipse class="ny" cx="240" cy="615" rx="40" ry="48"/><ellipse class="ny" cx="249" cy="662" rx="40" ry="48"/><text x="238" y="641" font-size="56" textLength="93" lengthAdjust="spacingAndGlyphs">food</text></g>
<g id="node-organic-food"><ellipse class="ny" cx="421" cy="652" rx="14" ry="18"/><text x="419" y="663" font-size="35" textLength="201" lengthAdjust="spacingAndGlyphs">organic food</text></g>
<g id="node-farming"><ellipse class="ny" cx="625" cy="763" rx="11" ry="12"/><text x="622" y="772" font-size="30" textLength="108" lengthAdjust="spacingAndGlyphs">farming</text></g>
<g id="node-nutrition"><ellipse class="ny" cx="466" cy="826" rx="14" ry="14"/><text x="467" y="828" font-size="31" textLength="131" lengthAdjust="spacingAndGlyphs">nutrition</text></g>
<g id="node-food-delivery"><ellipse class="ny" cx="236" cy="868" rx="11" ry="12"/><text x="234" y="872" font-size="31" textLength="182" lengthAdjust="spacingAndGlyphs">food delivery</text></g>
<g id="node-wellness"><ellipse class="ng" cx="883" cy="893" rx="13" ry="17"/><text x="882" y="908" font-size="32" textLength="124" lengthAdjust="spacingAndGlyphs">wellness</text></g>
<g id="node-organic"><ellipse class="nr" cx="854" cy="1062" rx="14" ry="18"/><text x="854" y="1070" font-size="30" textLength="108" lengthAdjust="spacingAndGlyphs">organic</text></g>
<g id="node-consumer"><ellipse class="ng" cx="830" cy="1218" rx="11" ry="13"/><text x="827" y="1236" font-size="29" textLength="137" lengthAdjust="spacingAndGlyphs">consumer</text></g>
<g id="node-e-commerce"><ellipse class="nr" cx="758" cy="1319" rx="46" ry="57"/><text x="761" y="1346" font-size="56" textLength="287" lengthAdjust="spacingAndGlyphs">e commerce</text></g>
<g id="node-financial-service"><ellipse class="nr" cx="1262" cy="1161" rx="19" ry="23"/><text x="1261" y="1175" font-size="32" textLength="251" lengthAdjust="spacingAndGlyphs">financial service</text></g>
<g id="node-marketing"><ellipse class="nr" cx="1082" cy="1318" rx="17" ry="19"/><text x="1083" y="1336" font-size="32" textLength="153" lengthAdjust="spacingAndGlyphs">marketing</text></g>
<g id="node-management-consulting"><ellipse class="nr" cx="1343" cy="1325" rx="13" ry="15"/><text x="1348" y="1342" font-size="33" textLength="364" lengthAdjust="spacingAndGlyphs">management consulting</text></g>
<g id="node-energy"><ellipse class="np" cx="1831" cy="755" rx="48" ry="57"/><text x="1832" y="777" font-size="62" textLength="156" lengthAdjust="spacingAndGlyphs">energy</text></g>
<g id="node-energy-efficiency"><ellipse class="np" cx="1874" cy="1069" rx="24" ry="33"/><text x="1874" y="1088" font-size="40" textLength="298" lengthAdjust="spacingAndGlyphs">energy efficiency</text></g>
<g id="node-clean-energy"><ellipse class="np" cx="1667" cy="1150" rx="23" ry="29"/><text x="1666" y="1167" font-size="40" textLength="225" lengthAdjust="spacingAndGlyphs">clean energy</text></g>
<g id="node-construction"><ellipse class="nc" cx="1843" cy="1277" rx="20" ry="26"/><text x="1845" y="1293" font-size="38" textLength="212" lengthAdjust="spacingAndGlyphs">construction</text></g>
<g id="node-commercial-real-estate"><ellipse class="nc" cx="1876" cy="1368" rx="9" ry="12"/><text x="1869" y="1377" font-size="30" textLength="319" lengthAdjust="spacingAndGlyphs">commercial real estate</text></g>
<g id="node-fashion"><ellipse class="nr" cx="720" cy="1530" rx="38" ry="50"/><text x="719" y="1543" font-size="52" textLength="150" lengthAdjust="spacingAndGlyphs">fashion</text></g>
<g id="node-shopping"><ellipse class="nr" cx="557" cy="1578" rx="8" ry="10"/><text x="557" y="1580" font-size="32" textLength="138" lengthAdjust="spacingAndGlyphs">shopping</text></g>
<g id="node-profit"><ellipse class="nr" cx="963" cy="1542" rx="19" ry="22"/><text x="962" y="1551" font-size="34" textLength="88" lengthAdjust="spacingAndGlyphs">profit</text></g>
<g id="node-mobile"><ellipse class="nb" cx="1082" cy="1555" rx="17" ry="20"/><text x="1082" y="1566" font-size="34" textLength="109" lengthAdjust="spacingAndGlyphs">mobile</text></g>
<g id="node-mobile-apps"><ellipse class="nb" cx="1068" cy="1627" rx="13" ry="15"/><text x="1068" y="1633" font-size="32" textLength="181" lengthAdjust="spacingAndGlyphs">mobile apps</text></g>
<g id="node-community"><ellipse class="nr" cx="774" cy="1660" rx="15" ry="18"/><text x="774" y="1668" font-size="30" textLength="169" lengthAdjust="spacingAndGlyphs">community</text></g>
<g id="node-apps"><ellipse class="nb" cx="1031" cy="1722" rx="20" ry="23"/><text x="1030" y="1731" font-size="34" textLength="77" lengthAdjust="spacingAndGlyphs">apps</text></g>
<g id="node-social-network"><ellipse class="nr" cx="873" cy="1762" rx="8" ry="10"/><text x="871" y="1769" font-size="29" textLength="203" lengthAdjust="spacingAndGlyphs">social network</text></g>
<g id="node-electric-vehicle"><ellipse class="nb" cx="1444" cy="1710" rx="16" ry="22"/><text x="1441" y="1722" font-size="34" textLength="232" lengthAdjust="spacingAndGlyphs">electric vehicle</text></g>
<g id="node-transportation"><ellipse class="nb" cx="1272" cy="1787" rx="23" ry="26"/><text x="1276" y="1792" font-size="38" textLength="248" lengthAdjust="spacingAndGlyphs">transportation</text></g>
<g id="node-travel"><ellipse class="nb" cx="1120" cy="1945" rx="19" ry="24"/><text x="1120" y="1957" font-size="32" textLength="87" lengthAdjust="spacingAndGlyphs">travel</text></g>
</g>
</svg>
